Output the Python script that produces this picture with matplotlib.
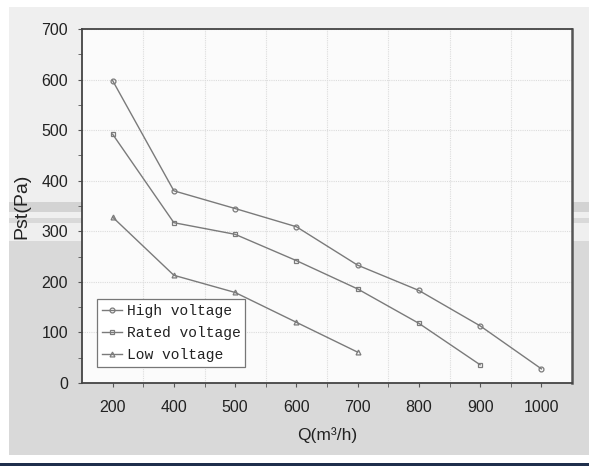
import matplotlib
matplotlib.use("Agg")
import matplotlib.pyplot as plt
from matplotlib.patches import Rectangle
import numpy as np

# data
flow = ["200", "400", "500", "600", "700", "800", "900", "1000"]
high_voltage = [598, 380, 345, 309, 233, 183, 113, 28]
rated_voltage = [492, 317, 294, 242, 186, 118, 36]
low_voltage = [328, 213, 179, 120, 61]

W, H = 589, 466
fig = plt.figure(figsize=(W / 100, H / 100), dpi=100)
fig.patch.set_facecolor("white")


def band(x0, y0, x1, y1, color):
    # rectangle in pixel coords (top-left origin) of the scanned page background
    fig.patches.append(Rectangle((x0 / W, 1 - y1 / H), (x1 - x0) / W, (y1 - y0) / H,
                                 transform=fig.transFigure, facecolor=color,
                                 edgecolor="none", zorder=-10))


band(9, 7, W, 455, "#efefef")
band(9, 202, W, 212, "#d3d3d3")
band(9, 218, W, 223, "#d9d9d9")
band(9, 241, W, 455, "#d9d9d9")
band(0, 463, W, H, "#1f2f4c")

ax = fig.add_axes([82 / W, (H - 383) / H, 490 / W, 354 / H])
ax.set_facecolor("#fbfbfb")

x = np.arange(len(flow))
line_kw = dict(color="#7a7a7a", lw=1.0, markersize=3.5, markerfacecolor="none",
               markeredgewidth=0.9)
ax.plot(x[:len(high_voltage)], high_voltage, marker="o", label="High voltage", **line_kw)
ax.plot(x[:len(rated_voltage)], rated_voltage, marker="s", label="Rated voltage", **line_kw)
ax.plot(x[:len(low_voltage)], low_voltage, marker="^", label="Low voltage", **line_kw)

ax.set_xlim(-0.5, len(flow) - 0.5)
ax.set_ylim(0, 700)
ax.set_xticks(x)
ax.set_xticklabels(flow)
ax.set_xticks(x[:-1] + 0.5, minor=True)
ax.set_yticks(np.arange(0, 701, 100))
ax.set_yticks(np.arange(50, 700, 100), minor=True)

ax.grid(True, axis="y", which="major", color="#dcdcdc", lw=0.8, ls=(0, (1, 1)))
ax.grid(True, axis="x", which="minor", color="#dcdcdc", lw=0.8, ls=(0, (1, 1)))

ax.tick_params(axis="both", which="both", direction="out", color="#555555",
               labelsize=11.5, labelcolor="#222222")
ax.tick_params(axis="y", which="both", length=3, pad=7)
ax.tick_params(axis="x", which="both", length=3, pad=9)
for lab in ax.get_xticklabels() + ax.get_yticklabels():
    lab.set_family("Liberation Sans")

for side in ["left", "bottom", "top"]:
    ax.spines[side].set_color("#444444")
    ax.spines[side].set_linewidth(1.3)
ax.spines["right"].set_color("#555555")
ax.spines["right"].set_linewidth(1.8)

ax.set_ylabel("Pst(Pa)", fontsize=14, family="Liberation Sans", color="#222222",
              labelpad=8)
ax.set_xlabel("Q(m³/h)", fontsize=12.5, family="Liberation Sans", color="#222222",
              labelpad=9)

leg = ax.legend(loc="lower left", bbox_to_anchor=(0.03, 0.045),
                prop={"family": "Liberation Mono", "size": 10.5},
                frameon=True, fancybox=False, framealpha=1, edgecolor="#777777",
                handlelength=1.4, handletextpad=0.3, borderpad=0.35,
                labelspacing=0.55, borderaxespad=0)
leg.get_frame().set_linewidth(0.9)
for t in leg.get_texts():
    t.set_color("#222222")

fig.savefig("out.png", dpi=100)
